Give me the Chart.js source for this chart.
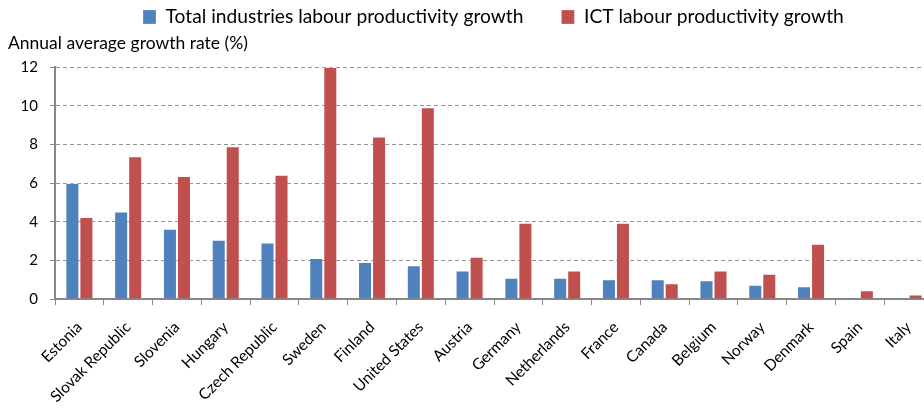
<!DOCTYPE html>
<html><head><meta charset="utf-8">
<script src="https://cdn.jsdelivr.net/npm/chart.js@4/dist/chart.umd.min.js"></script>
<style>html,body{margin:0;padding:0;overflow:hidden;background:#fff;width:924px;height:420px}canvas{display:block}</style>
</head><body>
<canvas id="c" width="940" height="420"></canvas>
<script>
const categories = ['Estonia','Slovak Republic','Slovenia','Hungary','Czech Republic','Sweden','Finland','United States','Austria','Germany','Netherlands','France','Canada','Belgium','Norway','Denmark','Spain','Italy'];
const totalGrowth = [6.0, 4.52, 3.64, 3.07, 2.92, 2.12, 1.91, 1.74, 1.47, 1.1, 1.1, 1.02, 1.02, 0.97, 0.74, 0.66, 0.09, 0.0];
const ictGrowth = [4.24, 7.38, 6.36, 7.9, 6.43, 12.0, 8.4, 9.92, 2.19, 3.95, 1.47, 3.95, 0.81, 1.47, 1.31, 2.86, 0.45, 0.23];
const seriesNames = ['Total industries labour productivity growth', 'ICT labour productivity growth'];
const yTicks = [0, 2, 4, 6, 8, 10, 12];
const axisTitle = 'Annual average growth rate (%)';

const FONT = 'Lato';
function fitSize(text, width) {
  const ctx = document.createElement('canvas').getContext('2d');
  ctx.font = '100px ' + FONT;
  return 100 * width / ctx.measureText(text).width;
}
const legendSize = fitSize(seriesNames[0], 358);
const titleSize = fitSize(axisTitle, 240);
const tickSize = 15;
const xTickSize = fitSize('Slovak Republic', 106);
const GRID = '#939393';
const AXIS = '#878787';
const LEG_PAD = 38;
const titleLH = titleSize * 1.2;

const placeBoxes = {
  id: 'placeBoxes',
  afterLayout(chart) {
    const lg = chart.legend;
    if (lg) {
      const p = lg.options.labels.padding;
      lg.left = 143 - p;
      lg.right = 940;
      lg.top = 17 - legendSize / 2 - p;
      lg.bottom = 40;
    }
    const tb = chart.titleBlock;
    if (tb) {
      tb.left = 8;
      tb.right = 600;
      tb.top = 43 - titleLH / 2;
      tb.bottom = tb.top + titleLH;
    }
  }
};

new Chart(document.getElementById('c'), {
  type: 'bar',
  data: {
    labels: categories,
    datasets: [
      { label: seriesNames[0], data: totalGrowth, backgroundColor: '#4F81BD', borderColor: 'rgba(255,255,255,0.25)', borderWidth: 1, categoryPercentage: 0.575, barPercentage: 1 },
      { label: seriesNames[1], data: ictGrowth, backgroundColor: '#C0504D', borderColor: 'rgba(255,255,255,0.25)', borderWidth: 1, categoryPercentage: 0.575, barPercentage: 1 }
    ]
  },
  options: {
    responsive: false,
    animation: false,
    devicePixelRatio: 1,
    layout: { padding: { left: 0, right: 7, top: 0, bottom: 0 } },
    plugins: {
      legend: {
        display: true, position: 'top', align: 'start', maxHeight: 30,
        labels: { boxWidth: 13, boxHeight: 14, padding: LEG_PAD, color: '#000', font: { family: FONT, size: legendSize } }
      },
      title: {
        display: true, text: axisTitle, align: 'start', position: 'top', weight: 500,
        color: '#000', font: { family: FONT, size: titleSize, weight: 'normal', lineHeight: 1.2 },
        padding: { top: 0, bottom: 37 - titleLH }
      },
      tooltip: { enabled: false }
    },
    scales: {
      x: {
        offset: true,
        grid: { offset: true, drawOnChartArea: false, drawTicks: true, tickLength: 6, color: AXIS, lineWidth: 1 },
        border: { display: true, color: AXIS, width: 2 },
        ticks: { autoSkip: false, maxRotation: 45, minRotation: 45, padding: 13, color: '#000', font: { family: FONT, size: xTickSize } },
        afterFit(s) { s.height = 121; }
      },
      y: {
        min: 0, max: 12,
        afterBuildTicks(s) { s.ticks = yTicks.map(v => ({ value: v })); },
        grid: { color: GRID, lineWidth: 1, tickLength: 5, tickColor: AXIS, tickBorderDash: [] },
        border: { display: true, color: AXIS, width: 2, dash: [4, 3] },
        ticks: { padding: 12, color: '#000', font: { family: FONT, size: tickSize } },
        afterFit(s) { s.width = 55; }
      }
    }
  },
  plugins: [placeBoxes]
});
</script>
</body></html>
